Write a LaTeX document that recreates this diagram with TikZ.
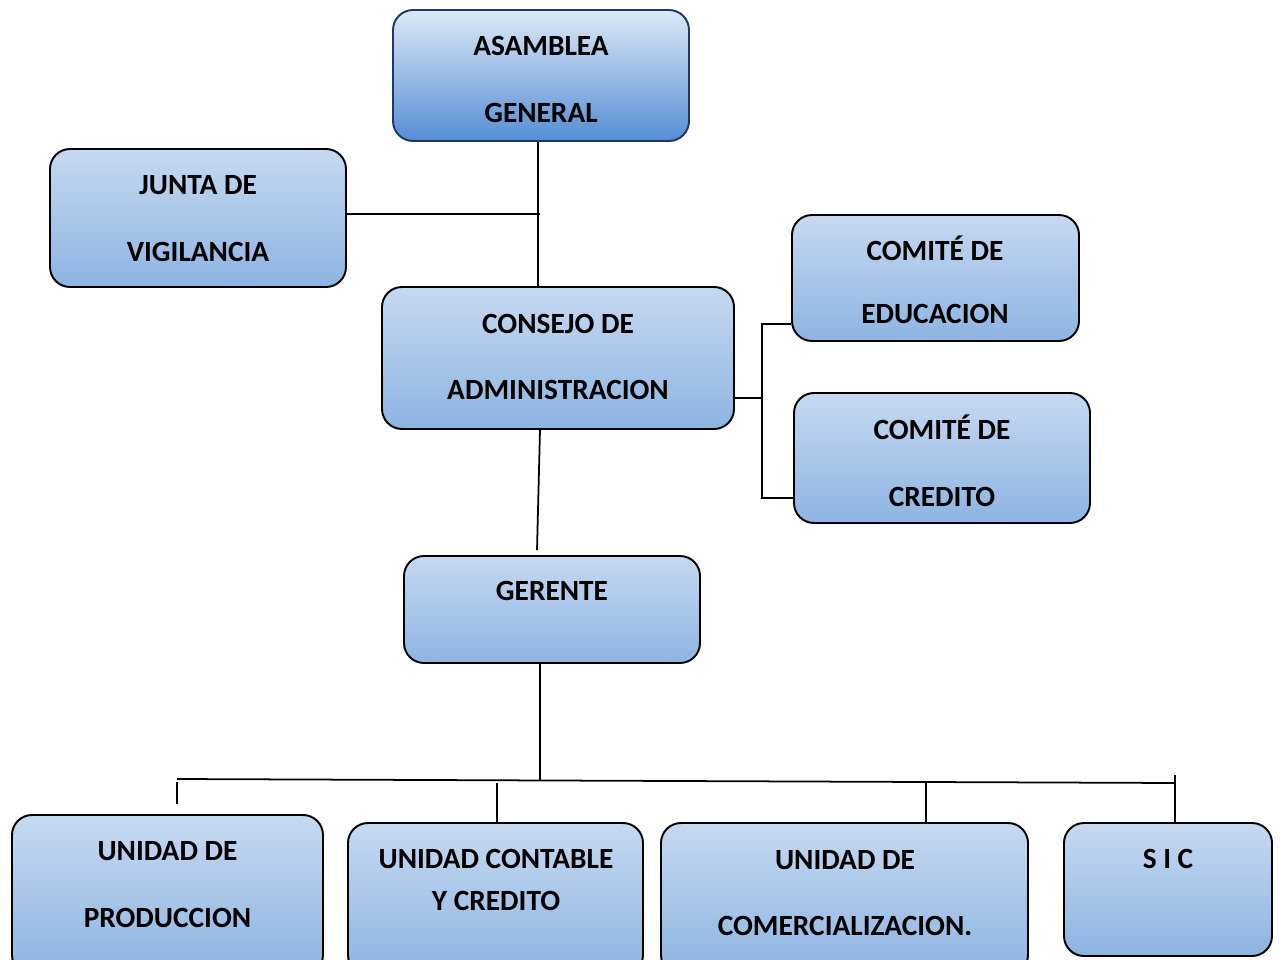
\documentclass[tikz,border=0pt]{standalone}
\usepackage{fontspec}
\setmainfont{Carlito}

\definecolor{boxtop}{HTML}{C6D9F1}
\definecolor{boxbottom}{HTML}{8DB4E2}
\definecolor{topbottom}{HTML}{558ED5}
\definecolor{topborder}{HTML}{1F3864}

\tikzset{
    orgbox/.style = {draw = black, line width = 1.1pt, rounded corners = .4cm, top color = boxtop, bottom color = boxbottom, inner sep = 0pt},
    orgtext/.style = {font = \fontsize{16.7}{38}\selectfont\bfseries, align = center, inner sep = 0pt},
    link/.style = {draw = black, line width = 1pt}
}

\begin{document}
\begin{tikzpicture}
        \useasboundingbox (0, 0) rectangle (25.6, -19.2);
        \fill[white] (0, 0) rectangle (25.6, -19.2);

        \node (asamblea) at (10.82, -1.51) [orgbox, draw = topborder, top color = boxtop!60!white, bottom color = topbottom, minimum width = 5.92cm, minimum height = 2.62cm] {};
        \node (junta) at (3.96, -4.36) [orgbox, minimum width = 5.92cm, minimum height = 2.76cm] {};
        \node (consejo) at (11.16, -7.16) [orgbox, minimum width = 7.04cm, minimum height = 2.84cm] {};
        \node (educacion) at (18.71, -5.56) [orgbox, minimum width = 5.74cm, minimum height = 2.52cm] {};
        \node (credito) at (18.84, -9.16) [orgbox, minimum width = 5.92cm, minimum height = 2.6cm] {};
        \node (gerente) at (11.04, -12.19) [orgbox, minimum width = 5.92cm, minimum height = 2.14cm] {};
        \node (produccion) at (3.35, -17.9) [orgbox, minimum width = 6.22cm, minimum height = 3.2cm] {};
        \node (contable) at (9.91, -17.98) [orgbox, minimum width = 5.9cm, minimum height = 3.04cm] {};
        \node (comercial) at (16.89, -17.98) [orgbox, minimum width = 7.34cm, minimum height = 3.04cm] {};
        \node (sic) at (23.36, -17.79) [orgbox, minimum width = 4.16cm, minimum height = 2.66cm] {};

        \node (asamblea-t) at (10.82, -1.59) [orgtext] {ASAMBLEA\\GENERAL};
        \node (junta-t) at (3.96, -4.37) [orgtext] {JUNTA DE\\VIGILANCIA};
        \node (consejo-t) at (11.16, -7.14) [orgtext] {CONSEJO DE\\ADMINISTRACION};
        \node (educacion-t) at (18.7, -5.6) [orgtext] {COMITÉ DE\\[-2pt]EDUCACION};
        \node (credito-t) at (18.84, -9.22) [orgtext] {COMITÉ DE\\CREDITO};
        \node (gerente-t) at (11.04, -11.82) [orgtext] {GERENTE};
        \node (produccion-t) at (3.35, -17.69) [orgtext] {UNIDAD DE\\PRODUCCION};
        \node (contable-t) at (9.92, -17.6) [orgtext] {UNIDAD CONTABLE\\[-14pt]Y CREDITO};
        \node (comercial-t) at (16.9, -17.86) [orgtext] {UNIDAD DE\\COMERCIALIZACION.};
        \node (sic-t) at (23.36, -17.18) [orgtext] {S I C};

        \coordinate (a1) at ([xshift = -.06cm]asamblea.south);
        \draw[link] (a1) -- (a1 |- consejo.north);
        \draw[link] ([yshift = .08cm]junta.east) -- ([xshift = .04cm, yshift = .08cm]junta.east -| a1);

        \coordinate (cb) at ([xshift = .54cm, yshift = -.8cm]consejo.east);
        \draw[link] ([yshift = -.8cm]consejo.east) -- (cb);
        \draw[link] ([yshift = -.92cm]educacion.west) -| (cb) |- ([yshift = -.8cm]credito.west);

        \draw[link] ([xshift = -.36cm]consejo.south) -- ([xshift = -.3cm, yshift = .1cm]gerente.north);

        \coordinate (busL) at (3.54, -15.58);
        \coordinate (busR) at (23.5, -15.66);
        \coordinate (busG) at (10.8, -15.61);
        \coordinate (dropP) at (3.54, -16.08);
        \draw[link] (busL) -- (busR);
        \draw[link] ([xshift = -.24cm]gerente.south) -- (busG);
        \draw[link] ([yshift = -.06cm]busL) -- (dropP);
        \draw[link] ([xshift = .03cm]contable.north) -- ([xshift = .03cm]contable.north |- busR);
        \draw[link] ([xshift = 1.63cm]comercial.north) -- ([xshift = 1.63cm]comercial.north |- busR);
        \draw[link] ([xshift = .14cm]sic.north) -- ([xshift = .14cm, yshift = .08cm]sic.north |- busL);
    \end{tikzpicture}
\end{document}
